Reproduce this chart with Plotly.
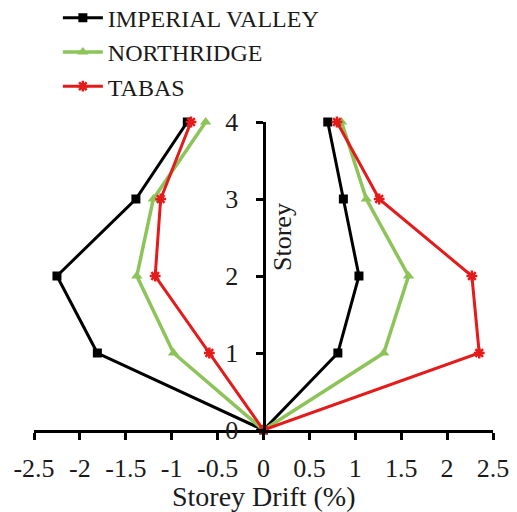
import plotly.graph_objects as go

storey = [0, 1, 2, 3, 4]
series_names = ["IMPERIAL VALLEY", "NORTHRIDGE", "TABAS"]
imperial_neg = [0, -1.81, -2.25, -1.39, -0.83]
imperial_pos = [0, 0.81, 1.04, 0.87, 0.70]
northridge_neg = [0, -0.98, -1.38, -1.20, -0.63]
northridge_pos = [0, 1.31, 1.58, 1.12, 0.85]
tabas_neg = [0, -0.59, -1.18, -1.12, -0.79]
tabas_pos = [0, 2.35, 2.27, 1.26, 0.80]
x_ticks = [-2.5, -2, -1.5, -1, -0.5, 0, 0.5, 1, 1.5, 2, 2.5]
x_ticktext = ["-2.5", "-2", "-1.5", "-1", "-0.5", "0", "0.5", "1", "1.5", "2", "2.5"]
y_ticks = [0, 1, 2, 3, 4]

FONT = "Liberation Serif, Times New Roman, Times, serif"

def path(neg, pos):
    xs = list(reversed(neg)) + pos[1:]
    ys = list(reversed(storey)) + storey[1:]
    return xs, ys

styles = [
    dict(color="#000000", symbol="square", size=9, lw=3),
    dict(color="#8DC45A", symbol="triangle-up", size=10, lw=3.5),
    dict(color="#E31B1B", symbol="asterisk-open", size=9, lw=3),
]
data = [(imperial_neg, imperial_pos), (northridge_neg, northridge_pos), (tabas_neg, tabas_pos)]

fig = go.Figure()
for name, (neg, pos), st in zip(series_names, data, styles):
    xs, ys = path(neg, pos)
    marker = dict(symbol=st["symbol"], size=st["size"], color=st["color"])
    if st["symbol"].endswith("open"):
        marker["line"] = dict(color=st["color"], width=2.5)
    fig.add_trace(go.Scatter(
        x=xs, y=ys, mode="lines+markers", name=name,
        line=dict(color=st["color"], width=st["lw"]),
        marker=marker, cliponaxis=False,
    ))

fig.add_annotation(
    x=0, y=2.5, xref="x", yref="y", text="Storey", textangle=-90,
    showarrow=False, xshift=19, font=dict(family=FONT, size=26, color="#1a1a1a"),
)
fig.add_annotation(
    x=0, y=0, xref="x", yref="y", text="Storey Drift (%)",
    showarrow=False, yshift=-66, font=dict(family=FONT, size=28, color="#1a1a1a"),
)

fig.update_layout(
    width=509, height=504,
    margin=dict(l=26, r=24, t=114, b=82, autoexpand=False),
    paper_bgcolor="white", plot_bgcolor="white",
    font=dict(family=FONT, size=26, color="#1a1a1a"),
    showlegend=True,
    legend=dict(x=0.052, y=1.41, xanchor="left", yanchor="top",
                font=dict(family=FONT, size=24, color="#1a1a1a"),
                bgcolor="rgba(0,0,0,0)", tracegroupgap=0, itemwidth=40),
    xaxis=dict(range=[-2.5, 2.5], tickvals=x_ticks, ticktext=x_ticktext,
               showgrid=False, zeroline=False, showline=True, linecolor="black",
               linewidth=3, ticks="outside", ticklen=7, tickwidth=3, tickcolor="black",
               ticklabelstandoff=6, fixedrange=True),
    yaxis=dict(range=[0, 4], tickvals=y_ticks, anchor="free", position=0.5,
               showgrid=False, zeroline=False, showline=True, linecolor="black",
               linewidth=3, ticks="outside", ticklen=7, tickwidth=3, tickcolor="black",
               ticklabelstandoff=12, fixedrange=True),
)

fig.write_html("out.html")
